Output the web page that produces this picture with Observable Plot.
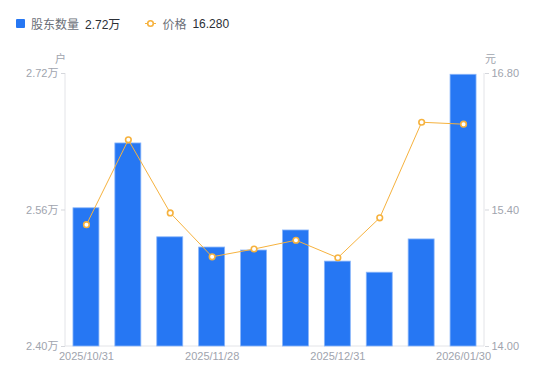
<!DOCTYPE html>
<html>
<head>
<meta charset="utf-8">
<script src="https://cdn.jsdelivr.net/npm/d3@7"></script>
<script src="https://cdn.jsdelivr.net/npm/@observablehq/plot@0.6"></script>
<style>
  html, body { margin: 0; padding: 0; background: #fff; }
  body { font-family: "Liberation Sans", "Noto Sans CJK SC", sans-serif; }
  #wrap { position: relative; width: 550px; height: 381px; overflow: hidden; }
  #legend { position: absolute; left: 16px; top: 15px; font-size: 12px; display: flex; align-items: center; white-space: nowrap; }
  .sw { display: inline-block; width: 9px; height: 9px; background: #2677f3; border-radius: 1px; margin-right: 6px; }
  .lab { color: #6b6f78; margin-right: 6px; }
  .val { color: #2b2f36; margin-right: 25px; }
  .unit { position: absolute; font-size: 11px; color: #a0a4ae; }
  svg text { font-family: "Liberation Sans", "Noto Sans CJK SC", sans-serif; }
</style>
</head>
<body>
<div id="wrap">
  <div id="legend">
    <span class="sw"></span><span class="lab">股东数量</span><span class="val">2.72万</span>
    <svg width="11" height="9" style="margin-right:6px"><line x1="0" y1="4.5" x2="11" y2="4.5" stroke="#f6b23e" stroke-width="1"/><circle cx="5.5" cy="4.5" r="2.8" fill="#fff" stroke="#f6b23e" stroke-width="1.6"/></svg><span class="lab">价格</span><span class="val">16.280</span>
  </div>
  <div class="unit" style="left:55px; top:50px;">户</div>
  <div class="unit" style="left:485px; top:50px;">元</div>
  <div id="chart"></div>
</div>
<script>
const dates = ["2025/10/31","2025/11/10","2025/11/20","2025/11/28","2025/12/10","2025/12/19","2025/12/31","2026/01/09","2026/01/20","2026/01/30"];
const holders = [2.562, 2.638, 2.528, 2.516, 2.5125, 2.536, 2.4995, 2.4865, 2.5255, 2.7185]; // 万户
const prices = [15.25, 16.12, 15.37, 14.92, 15.00, 15.09, 14.91, 15.32, 16.30, 16.28];
const leftTicks = [2.40, 2.56, 2.72];
const rightTicks = [14.00, 15.40, 16.80];
const xLabels = ["2025/10/31","2025/11/28","2025/12/31","2026/01/30"];

const yMin = 2.40, yMax = 2.72, pMin = 14.00, pMax = 16.80;
const p2y = p => yMin + (p - pMin) / (pMax - pMin) * (yMax - yMin);
const y2p = y => pMin + (y - yMin) / (yMax - yMin) * (pMax - pMin);

const data = dates.map((d, i) => ({date: d, holders: holders[i], price: prices[i], py: p2y(prices[i])}));

const axisLines = (index, scales, values, dim) => {
  const g = document.createElementNS("http://www.w3.org/2000/svg", "g");
  const x0 = dim.marginLeft, x1 = dim.width - dim.marginRight;
  const yt = dim.marginTop, yb = dim.height - dim.marginBottom;
  for (const x of [x0, x1]) {
    const l = document.createElementNS("http://www.w3.org/2000/svg", "line");
    l.setAttribute("x1", x); l.setAttribute("x2", x);
    l.setAttribute("y1", yt); l.setAttribute("y2", yb);
    l.setAttribute("stroke", "#e3e4e8"); l.setAttribute("stroke-width", 1);
    g.appendChild(l);
  }
  const b = document.createElementNS("http://www.w3.org/2000/svg", "line");
  b.setAttribute("x1", x0); b.setAttribute("x2", x1);
  b.setAttribute("y1", yb); b.setAttribute("y2", yb);
  b.setAttribute("stroke", "#e3e4e8");
  g.appendChild(b);
  return g;
};

const chart = Plot.plot({
  width: 550,
  height: 381,
  marginLeft: 65,
  marginRight: 66,
  marginTop: 73,
  marginBottom: 35,
  style: {background: "transparent", fontSize: "11px", color: "#a0a4ae"},
  x: {type: "band", domain: dates, paddingInner: 0.38, paddingOuter: 0.19, round: false},
  y: {domain: [yMin, yMax]},
  marks: [
    axisLines,
    Plot.barY(data, {x: "date", y1: yMin, y2: "holders", fill: "#2677f3", stroke: "#8ab6fa", strokeWidth: 0.8}),
    Plot.lineY(data, {x: "date", y: "py", stroke: "#f6b23e", strokeWidth: 1}),
    Plot.dot(data, {x: "date", y: "py", r: 2.8, fill: "#fff", stroke: "#f6b23e", strokeWidth: 1.6}),
    Plot.axisY({anchor: "left", ticks: leftTicks, tickSize: 4, tickPadding: 3, tickFormat: v => v.toFixed(2) + "万", label: null, stroke: "#d5d7dc", fill: "#a0a4ae"}),
    Plot.axisY({anchor: "right", ticks: rightTicks.map(p2y), tickSize: 4, tickPadding: 3, tickFormat: v => y2p(v).toFixed(2), label: null, stroke: "#d5d7dc", fill: "#a0a4ae"}),
    Plot.axisX({ticks: xLabels, tickSize: 0, tickPadding: 6, label: null, fill: "#a0a4ae"})
  ]
});
document.getElementById("chart").appendChild(chart);
</script>
</body>
</html>
